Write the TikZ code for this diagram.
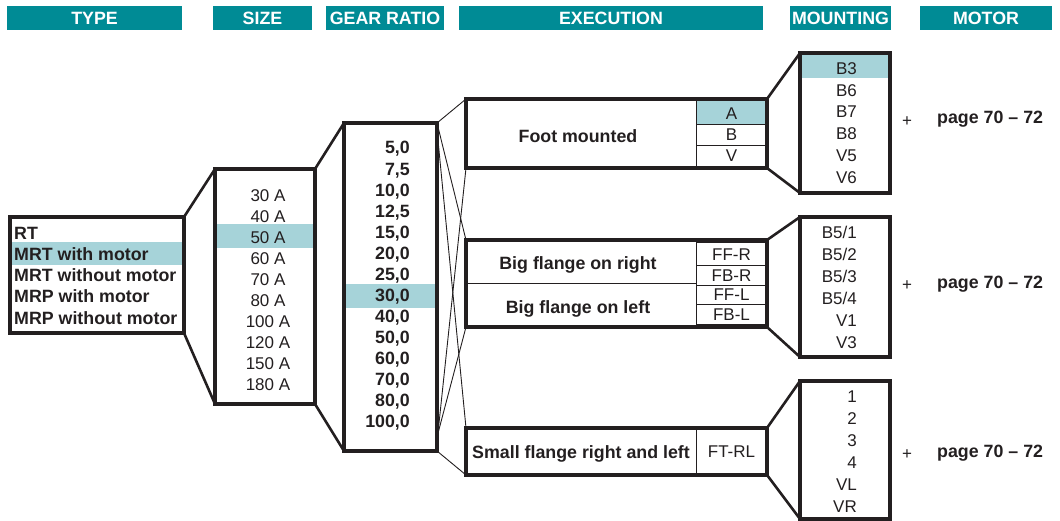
\documentclass[tikz,border=0pt]{standalone}
\usepackage{fontspec}
\setmainfont{Liberation Sans}
\usepackage{tikz}
\usetikzlibrary{shapes,positioning,calc}
\definecolor{headteal}{RGB}{0,139,149}
\definecolor{hiblue}{RGB}{166,211,217}
\definecolor{ink}{RGB}{35,31,32}
\newcommand{\plainfont}{\fontsize{17}{20}\selectfont}
\newcommand{\boldfont}{\fontsize{17.8}{20}\selectfont\bfseries}
\tikzstyle{title} = [fill=headteal, text=white, font=\boldfont, minimum height=24pt, inner sep=0pt]
\tikzstyle{box} = [draw=ink, line width=3.5pt, inner sep=0pt, outer sep=0pt]
\tikzstyle{fan} = [draw=ink, line width=2.6pt]
\tikzstyle{cross} = [draw=ink, line width=0.9pt]
\tikzstyle{hl} = [fill=hiblue]

\begin{document}
\begin{tikzpicture}[x=1pt, y=-1pt, every node/.style={text=ink, font=\plainfont, inner sep=0pt}, cells/.style={rectangle split, rectangle split parts=#1, draw=ink, line width=1pt, outer sep=0pt, inner xsep=2pt, minimum width=71pt, rectangle split part align=center}]
\useasboundingbox (0,0) rectangle (1060,521);

% TITLES
\node [title, minimum width=175pt] (typetitle) at (94.5,18) {TYPE};
\node [title, minimum width=99pt] (sizetitle) at (262.5,18) {SIZE};
\node [title, minimum width=118pt] (ratiotitle) at (385,18) {GEAR RATIO};
\node [title, minimum width=304pt] (exectitle) at (611,18) {EXECUTION};
\node [title, minimum width=101pt] (mounttitle) at (840.5,18) {MOUNTING};
\node [title, minimum width=132pt] (motortitle) at (986,18) {MOTOR};

% HIGHLIGHTS
\fill [hl] (8,242) rectangle (184,265);
\fill [hl] (217,224) rectangle (313,248);
\fill [hl] (346,284) rectangle (435,308);
\fill [hl] (802,55) rectangle (888,78);

% CELLS
\node [cells=3, inner ysep=4pt, text height=14pt, text depth=1pt, rectangle split part fill={hiblue,white,white}] (footcells) at (731.5,133.5)
{%
	\nodepart{one} A
	\nodepart{two} B
	\nodepart{three} V};
\node [cells=4, inner ysep=3.5pt, text height=14pt, text depth=0.75pt] (bigcells) at (731.5,283.5)
{%
	\nodepart{one} FF-R
	\nodepart{two} FB-R
	\nodepart{three} FF-L
	\nodepart{four} FB-L};
\node [draw=ink, line width=1pt, outer sep=0pt, minimum width=71pt, minimum height=47pt] (smallcell) at (731.5,451.5) {FT-RL};

% LISTS
\foreach \t [count=\i from 0] in {RT,MRT with motor,MRT without motor,MRP with motor,MRP without motor}
	\node [anchor=base west, font=\boldfont] (type\i) at (14,{240+21*\i}) {\t};
\foreach \t [count=\i from 0] in {30 A,40 A,50 A,60 A,70 A,80 A,100 A,120 A,150 A,180 A}
	\node [anchor=base] (size\i) at (268,{201.5+21*\i}) {\t};
\foreach \t [count=\i from 0] in {{5,0},{7,5},{10,0},{12,5},{15,0},{20,0},{25,0},{30,0},{40,0},{50,0},{60,0},{70,0},{80,0},{100,0}}
	\node [anchor=base east, font=\boldfont] (ratio\i) at (410,{154+21.02*\i}) {\t};
\foreach \t [count=\i from 0] in {B3,B6,B7,B8,V5,V6}
	\node [anchor=base east] (moa\i) at (857,{74.3+21.8*\i}) {\t};
\foreach \t [count=\i from 0] in {B5/1,B5/2,B5/3,B5/4,V1,V3}
	\node [anchor=base east] (mob\i) at (857,{238.3+22*\i}) {\t};
\foreach \t [count=\i from 0] in {1,2,3,4,VL,VR}
	\node [anchor=base east] (moc\i) at (857,{402.7+22*\i}) {\t};

% EXECUTION LABELS
\node [anchor=base, font=\boldfont] (footlabel) at (578,142.5) {Foot mounted};
\node [anchor=base, font=\boldfont] (rightlabel) at (578,270) {Big flange on right};
\node [anchor=base, font=\boldfont] (leftlabel) at (578,313) {Big flange on left};
\node [anchor=base, font=\boldfont] (smalllabel) at (581,458.3) {Small flange right and left};

% MOTOR
\node (plus1) at (907,121.5) {+};
\node (plus2) at (907,286) {+};
\node (plus3) at (907,455) {+};
\node [anchor=base west, font=\boldfont] (page1) at (937,123.3) {page 70 – 72};
\node [anchor=base west, font=\boldfont] (page2) at (937,288.3) {page 70 – 72};
\node [anchor=base west, font=\boldfont] (page3) at (937,457.3) {page 70 – 72};

% BOXES
\node [box, minimum width=174pt, minimum height=116pt] (typebox) at (97,275) {};
\node [box, minimum width=100pt, minimum height=235pt] (sizebox) at (265,286.5) {};
\node [box, minimum width=93pt, minimum height=328pt] (gearbox) at (390.5,287) {};
\node [box, minimum width=301pt, minimum height=69pt] (footbox) at (616.5,133.5) {};
\node [box, minimum width=301pt, minimum height=87pt] (bigbox) at (616.5,283.5) {};
\node [box, minimum width=301pt, minimum height=47pt] (smallbox) at (616.5,451.5) {};
\node [box, minimum width=90pt, minimum height=140pt] (mount1) at (845,123) {};
\node [box, minimum width=90pt, minimum height=140pt] (mount2) at (845,287) {};
\node [box, minimum width=90pt, minimum height=138pt] (mount3) at (845,450) {};
\draw [ink, line width=1.2pt] (bigbox.west) -- (bigcells.west);

% CONNECTIONS
\draw [fan] (typebox.north east) -- (sizebox.north west);
\draw [fan] (typebox.south east) -- (sizebox.south west);
\draw [fan] (sizebox.north east) -- (gearbox.north west);
\draw [fan] (sizebox.south east) -- (gearbox.south west);

\coordinate (gtop) at ($(gearbox.north east)+(0,7)$);
\coordinate (gbotfoot) at ($(gearbox.south east)+(0,-9)$);
\coordinate (gbotbig) at ($(gearbox.south east)+(0,-14)$);
\draw [cross] (gearbox.north east) -- (footbox.north west);
\draw [cross] (gearbox.north east) -- (bigbox.north west);
\draw [cross] (gtop) -- (smallbox.north west);
\draw [cross] (gearbox.south east) -- (smallbox.south west);
\draw [cross] (gbotfoot) -- (footbox.south west);
\draw [cross] (gbotbig) -- (bigbox.south west);

\draw [fan] (footbox.north east) -- (mount1.north west);
\draw [fan] (footbox.south east) -- (mount1.south west);
\draw [fan] (bigbox.north east) -- (mount2.north west);
\draw [fan] (bigbox.south east) -- (mount2.south west);
\draw [fan] (smallbox.north east) -- (mount3.north west);
\draw [fan] (smallbox.south east) -- (mount3.south west);

\end{tikzpicture}
\end{document}
